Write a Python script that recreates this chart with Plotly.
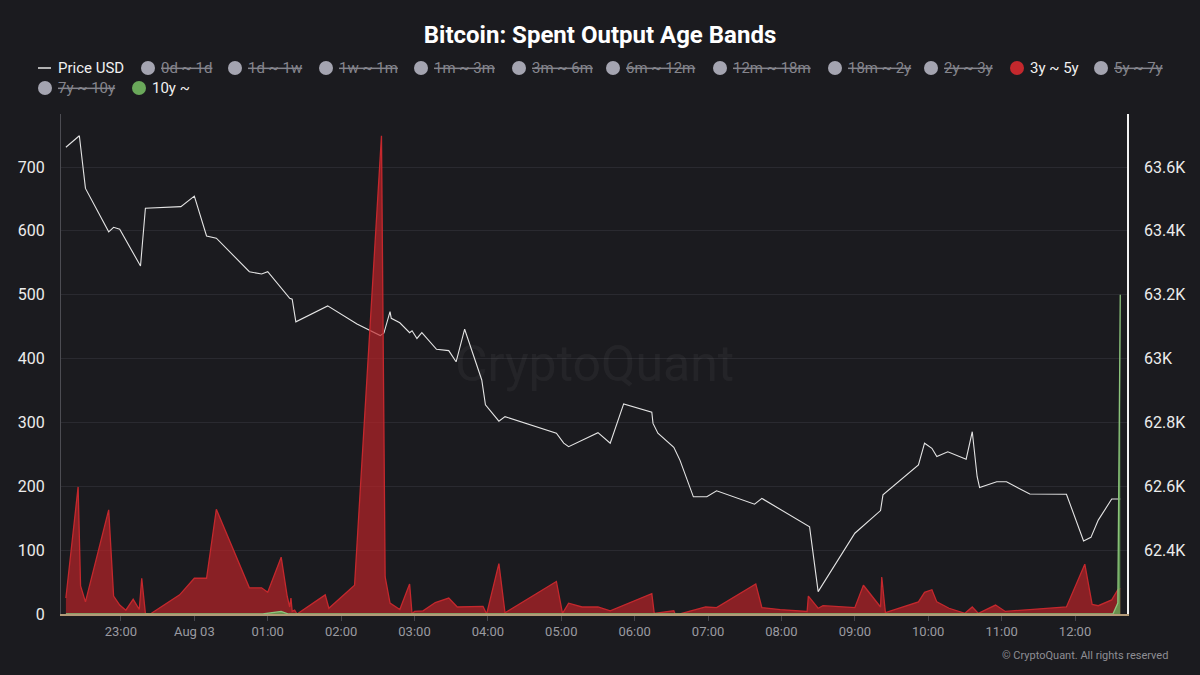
import plotly.graph_objects as go

# price (right axis)
price_time = [
    "2024-08-02 22:15", "2024-08-02 22:26", "2024-08-02 22:31", "2024-08-02 22:50",
    "2024-08-02 22:54", "2024-08-02 22:59", "2024-08-02 23:16", "2024-08-02 23:20",
    "2024-08-02 23:49", "2024-08-03 00:00", "2024-08-03 00:10", "2024-08-03 00:18",
    "2024-08-03 00:45", "2024-08-03 00:55", "2024-08-03 01:00", "2024-08-03 01:18",
    "2024-08-03 01:20", "2024-08-03 01:23", "2024-08-03 01:49", "2024-08-03 02:13",
    "2024-08-03 02:32", "2024-08-03 02:35", "2024-08-03 02:40", "2024-08-03 02:41",
    "2024-08-03 02:48", "2024-08-03 02:56", "2024-08-03 02:58", "2024-08-03 03:02",
    "2024-08-03 03:06", "2024-08-03 03:18", "2024-08-03 03:28", "2024-08-03 03:34",
    "2024-08-03 03:41", "2024-08-03 03:55", "2024-08-03 03:58", "2024-08-03 04:09",
    "2024-08-03 04:14", "2024-08-03 04:56", "2024-08-03 05:02", "2024-08-03 05:06",
    "2024-08-03 05:30", "2024-08-03 05:40", "2024-08-03 05:51", "2024-08-03 06:14",
    "2024-08-03 06:15", "2024-08-03 06:19", "2024-08-03 06:32", "2024-08-03 06:37",
    "2024-08-03 06:48", "2024-08-03 06:59", "2024-08-03 07:07", "2024-08-03 07:38",
    "2024-08-03 07:44", "2024-08-03 08:21", "2024-08-03 08:23", "2024-08-03 08:30",
    "2024-08-03 09:00", "2024-08-03 09:21", "2024-08-03 09:23", "2024-08-03 09:52",
    "2024-08-03 09:57", "2024-08-03 10:03", "2024-08-03 10:07", "2024-08-03 10:16",
    "2024-08-03 10:31", "2024-08-03 10:36", "2024-08-03 10:40", "2024-08-03 10:42",
    "2024-08-03 10:56", "2024-08-03 11:04", "2024-08-03 11:23", "2024-08-03 11:53",
    "2024-08-03 12:07", "2024-08-03 12:13", "2024-08-03 12:19", "2024-08-03 12:30",
    "2024-08-03 12:37",
]
price_usd = [
    63662, 63698, 63533, 63397, 63411, 63405, 63290, 63471,
    63476, 63509, 63384, 63377, 63272, 63265, 63272, 63189,
    63186, 63115, 63165, 63108, 63072, 63080, 63147, 63126,
    63112, 63081, 63087, 63063, 63081, 63029, 63025, 62990,
    63092, 62933, 62855, 62804, 62818, 62766, 62735, 62724,
    62768, 62735, 62858, 62832, 62797, 62766, 62722, 62682,
    62567, 62567, 62586, 62544, 62562, 62479, 62473, 62270,
    62453, 62524, 62573, 62667, 62735, 62719, 62693, 62708,
    62685, 62771, 62630, 62596, 62614, 62614, 62576, 62575,
    62429, 62440, 62494, 62560, 62560,
]

# 3y ~ 5y band (left axis)
band_3y_5y_time = [
    "2024-08-02 22:15", "2024-08-02 22:25", "2024-08-02 22:27", "2024-08-02 22:31",
    "2024-08-02 22:50", "2024-08-02 22:54", "2024-08-02 22:59", "2024-08-02 23:04",
    "2024-08-02 23:10", "2024-08-02 23:15", "2024-08-02 23:17", "2024-08-02 23:20",
    "2024-08-02 23:24", "2024-08-02 23:48", "2024-08-03 00:00", "2024-08-03 00:10",
    "2024-08-03 00:18", "2024-08-03 00:45", "2024-08-03 00:55", "2024-08-03 01:00",
    "2024-08-03 01:11", "2024-08-03 01:16", "2024-08-03 01:18", "2024-08-03 01:19",
    "2024-08-03 01:20", "2024-08-03 01:22", "2024-08-03 01:24", "2024-08-03 01:47",
    "2024-08-03 01:50", "2024-08-03 02:11", "2024-08-03 02:33", "2024-08-03 02:36",
    "2024-08-03 02:40", "2024-08-03 02:48", "2024-08-03 02:56", "2024-08-03 02:58",
    "2024-08-03 03:00", "2024-08-03 03:07", "2024-08-03 03:17", "2024-08-03 03:28",
    "2024-08-03 03:35", "2024-08-03 03:56", "2024-08-03 03:59", "2024-08-03 04:09",
    "2024-08-03 04:14", "2024-08-03 04:56", "2024-08-03 05:01", "2024-08-03 05:06",
    "2024-08-03 05:17", "2024-08-03 05:30", "2024-08-03 05:40", "2024-08-03 06:14",
    "2024-08-03 06:16", "2024-08-03 06:32", "2024-08-03 06:33", "2024-08-03 06:37",
    "2024-08-03 06:58", "2024-08-03 07:07", "2024-08-03 07:39", "2024-08-03 07:44",
    "2024-08-03 07:59", "2024-08-03 08:21", "2024-08-03 08:22", "2024-08-03 08:30",
    "2024-08-03 08:34", "2024-08-03 09:00", "2024-08-03 09:07", "2024-08-03 09:21",
    "2024-08-03 09:22", "2024-08-03 09:25", "2024-08-03 09:52", "2024-08-03 09:57",
    "2024-08-03 10:03", "2024-08-03 10:07", "2024-08-03 10:17", "2024-08-03 10:30",
    "2024-08-03 10:36", "2024-08-03 10:41", "2024-08-03 10:55", "2024-08-03 11:03",
    "2024-08-03 11:23", "2024-08-03 11:53", "2024-08-03 12:08", "2024-08-03 12:14",
    "2024-08-03 12:19", "2024-08-03 12:30", "2024-08-03 12:35", "2024-08-03 12:37",
]
band_3y_5y = [
    25, 199, 44, 19, 163, 28, 14, 6,
    23, 7, 56, 1, 0, 30, 56, 56,
    164, 41, 41, 34, 89, 27, 11, 25,
    4, 6, 0, 30, 9, 45, 749, 58,
    17, 7, 47, 0, 4, 5, 18, 25,
    11, 12, 0, 79, 2, 51, 1, 17,
    11, 11, 5, 32, 1, 5, 0, 0,
    11, 10, 47, 10, 7, 4, 28, 9,
    13, 10, 45, 11, 58, 2, 19, 34,
    38, 19, 9, 1, 11, 1, 14, 4,
    7, 11, 78, 15, 13, 22, 38, 40,
]

# 10y ~ band (left axis)
band_10y_time = [
    "2024-08-02 22:15", "2024-08-03 00:56", "2024-08-03 01:11", "2024-08-03 01:17",
    "2024-08-03 12:31", "2024-08-03 12:35", "2024-08-03 12:37",
]
band_10y = [0, 0, 4, 0, 0, 17, 500]

band_names = ["0d ~ 1d", "1d ~ 1w", "1w ~ 1m", "1m ~ 3m", "3m ~ 6m", "6m ~ 12m",
              "12m ~ 18m", "18m ~ 2y", "2y ~ 3y", "3y ~ 5y", "5y ~ 7y", "7y ~ 10y", "10y ~"]
active_colors = {"3y ~ 5y": "#c4282d", "10y ~": "#6aa85a"}

left_ticks = [0, 100, 200, 300, 400, 500, 600, 700]
right_ticks = [62400, 62600, 62800, 63000, 63200, 63400, 63600]
right_labels = ["62.4K", "62.6K", "62.8K", "63K", "63.2K", "63.4K", "63.6K"]
hour_ticks = ["2024-08-02 23:00", "2024-08-03 00:00", "2024-08-03 01:00", "2024-08-03 02:00",
              "2024-08-03 03:00", "2024-08-03 04:00", "2024-08-03 05:00", "2024-08-03 06:00",
              "2024-08-03 07:00", "2024-08-03 08:00", "2024-08-03 09:00", "2024-08-03 10:00",
              "2024-08-03 11:00", "2024-08-03 12:00"]
hour_labels = ["23:00", "Aug 03", "01:00", "02:00", "03:00", "04:00", "05:00", "06:00",
               "07:00", "08:00", "09:00", "10:00", "11:00", "12:00"]

BG = "#1b1b1f"
FONT = "Roboto"

# plot box in pixels, for placing the hand-drawn legend
PL, PR, PT, PB = 61, 1127, 114, 614


def px_x(px):
    return (px - PL) / (PR - PL)


def px_y(py):
    return (PB - py) / (PB - PT)


fig = go.Figure()
# price sits on the primary axis so the bands draw above it
fig.add_trace(go.Scatter(x=price_time, y=price_usd, name="Price USD", mode="lines",
                         line=dict(color="#e4e4e4", width=1.1), yaxis="y"))
fig.add_trace(go.Scatter(x=band_3y_5y_time, y=band_3y_5y, name="3y ~ 5y", mode="lines",
                         fill="tozeroy", fillcolor="rgba(190,36,40,0.68)",
                         line=dict(color="#c4282d", width=1.3), yaxis="y2"))
fig.add_trace(go.Scatter(x=band_10y_time, y=band_10y, name="10y ~", mode="lines",
                         fill="tozeroy", fillcolor="rgba(100,165,85,0.85)",
                         line=dict(color="#8cc47c", width=1.3), yaxis="y2"))

fig.update_layout(
    width=1200, height=675,
    paper_bgcolor=BG, plot_bgcolor=BG,
    margin=dict(l=PL, r=1200 - PR, t=PT, b=675 - PB),
    showlegend=False,
    font=dict(family=FONT, color="#e8e8e8"),
    title=dict(text="<b>Bitcoin: Spent Output Age Bands</b>", x=0.5, xref="container",
               y=1 - 35 / 675, yref="container", yanchor="middle",
               font=dict(size=24, color="#ffffff", family=FONT)),
    xaxis=dict(range=["2024-08-02 22:11", "2024-08-03 12:42:30"],
               tickvals=hour_ticks, ticktext=hour_labels, showgrid=False,
               ticks="outside", ticklen=5, tickcolor="#45454c",
               tickfont=dict(size=13, color="#9a9aa0"),
               showline=True, linecolor="#b39a78", linewidth=1.5, zeroline=False),
    yaxis=dict(side="right", range=[62200, 63766], tickvals=right_ticks, ticktext=right_labels,
               showgrid=False, zeroline=False, showline=True, linecolor="#f2f2f2", linewidth=1.5,
               ticklabelstandoff=12, tickfont=dict(size=16, color="#ececec")),
    yaxis2=dict(overlaying="y", side="left", range=[0, 783], tickvals=left_ticks,
                showgrid=True, gridcolor="#2a2a30", gridwidth=1, zeroline=False,
                showline=True, linecolor="#4c4c52", linewidth=1.2,
                ticklabelstandoff=12, tickfont=dict(size=16, color="#ececec")),
)

# watermark and footer
fig.add_annotation(text="CryptoQuant", x=0.5, y=0.5, xref="paper", yref="paper", showarrow=False,
                   font=dict(size=50, color="rgba(255,255,255,0.045)", family=FONT))
fig.add_annotation(text="© CryptoQuant. All rights reserved", x=px_x(1170), y=px_y(655),
                   xref="paper", yref="paper", xanchor="right", yanchor="middle", showarrow=False,
                   font=dict(size=11, color="#8e8e94", family=FONT))

# legend, drawn by hand to keep the packed two-row layout
legend_pos = [(148, 68), (235, 68), (326, 68), (421, 68), (519, 68), (613, 68), (720, 68),
              (835, 68), (931, 68), (1017, 68), (1101, 68), (45, 88), (139, 88)]

fig.add_shape(type="line", xref="paper", yref="paper", x0=px_x(38), x1=px_x(51),
              y0=px_y(68), y1=px_y(68), line=dict(color="#e4e4e4", width=1.5))
fig.add_annotation(text="Price USD", x=px_x(56), y=px_y(68), xref="paper", yref="paper",
                   xanchor="left", yanchor="middle", showarrow=False,
                   font=dict(size=15, color="#f0f0f0", family=FONT))

for name, (cx, cy) in zip(band_names, legend_pos):
    on = name in active_colors
    dot = active_colors.get(name, "#a4a4b0")
    fig.add_shape(type="circle", xref="paper", yref="paper", xsizemode="pixel", ysizemode="pixel",
                  xanchor=px_x(cx), yanchor=px_y(cy), x0=-7, x1=7, y0=-7, y1=7,
                  fillcolor=dot, line_width=0)
    fig.add_annotation(text=name, x=px_x(cx + 11), y=px_y(cy), xref="paper", yref="paper",
                       xanchor="left", yanchor="middle", showarrow=False,
                       font=dict(size=15, family=FONT,
                                 color="#f0f0f0" if on else "#85858d",
                                 lineposition="none" if on else "through"))

# drop the page's default body margin so the figure fills the window
fig.write_html("out.html", config={"displayModeBar": False},
               post_script="document.body.style.margin='0';")
